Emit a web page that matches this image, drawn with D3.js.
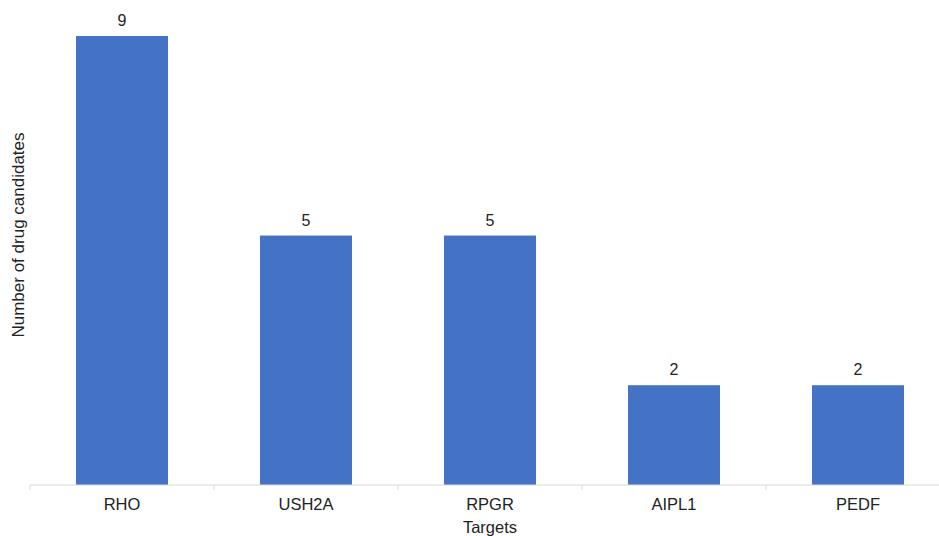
<!DOCTYPE html>
<html><head><meta charset="utf-8">
<script src="https://cdn.jsdelivr.net/npm/d3@7"></script>
<style>body{margin:0;background:#fff}svg{display:block}text{font-family:"Liberation Sans",Arial,sans-serif;fill:#222}</style>
</head><body>
<svg id="c" width="939" height="536"></svg>
<script>
const categories = ["RHO","USH2A","RPGR","AIPL1","PEDF"];
const values = [9,5,5,2,2];
const svg = d3.select("#c");
const x = d3.scaleBand().domain(categories).range([30,950]).paddingInner(0.5).paddingOuter(0.25);
const y = d3.scaleLinear().domain([0,9]).range([485,36]);
svg.selectAll("rect.bar").data(values).join("rect").attr("class","bar")
  .attr("x",(d,i)=>x(categories[i])).attr("width",x.bandwidth())
  .attr("y",d=>y(d)).attr("height",d=>y(0)-y(d)).attr("fill","#4472c4");
svg.selectAll("text.val").data(values).join("text").attr("class","val")
  .attr("x",(d,i)=>x(categories[i])+x.bandwidth()/2).attr("y",d=>y(d)-10)
  .attr("text-anchor","middle").style("font-size","16px").text(d=>d);
const ax = svg.append("g").attr("transform","translate(0,485)");
ax.append("line").attr("x1",30).attr("x2",939).attr("stroke","#d9d9d9");
const tickX = categories.map(c=>x(c)-x.step()*0.25);
ax.selectAll("line.t").data(tickX).join("line").attr("class","t")
  .attr("x1",d=>d).attr("x2",d=>d).attr("y1",0).attr("y2",5).attr("stroke","#d9d9d9");
ax.selectAll("text.cat").data(categories).join("text").attr("class","cat")
  .attr("x",c=>x(c)+x.bandwidth()/2).attr("y",25).attr("text-anchor","middle")
  .style("font-size","16.5px").text(c=>c);
svg.append("text").attr("x",490).attr("y",533).attr("text-anchor","middle").style("font-size","16.5px").text("Targets");
svg.append("text").attr("transform","translate(24,235) rotate(-90)").attr("text-anchor","middle").style("font-size","17px").text("Number of drug candidates");
</script>
</body></html>
